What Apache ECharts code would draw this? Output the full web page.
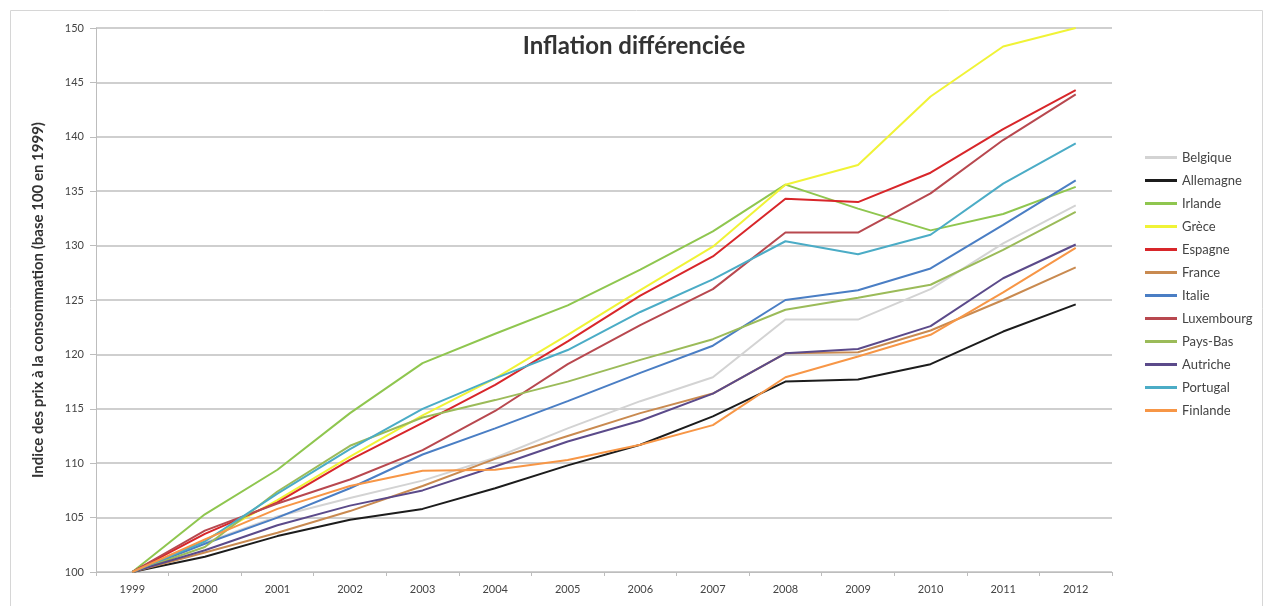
<!DOCTYPE html>
<html>
<head>
<meta charset="utf-8">
<script src="https://cdn.jsdelivr.net/npm/echarts@6/dist/echarts.min.js"></script>
<style>
  html, body { margin: 0; padding: 0; background: #fff; }
  #main { width: 1268px; height: 606px; }
</style>
</head>
<body>
<div id="main"></div>
<script>
// Indice des prix (base 100 en 1999)
var years = ['1999','2000','2001','2002','2003','2004','2005','2006','2007','2008','2009','2010','2011','2012'];

var belgique   = [100, 102.7, 105.1, 106.8, 108.4, 110.5, 113.2, 115.7, 117.9, 123.2, 123.2, 126.0, 130.2, 133.7];
var allemagne  = [100, 101.4, 103.3, 104.8, 105.8, 107.7, 109.8, 111.7, 114.3, 117.5, 117.7, 119.1, 122.1, 124.6];
var irlande    = [100, 105.3, 109.4, 114.6, 119.2, 121.9, 124.5, 127.8, 131.3, 135.6, 133.4, 131.4, 132.9, 135.4];
var grece      = [100, 102.9, 106.6, 110.6, 114.4, 117.8, 121.8, 125.9, 129.9, 135.6, 137.4, 143.7, 148.3, 150.0];
var espagne    = [100, 103.5, 106.4, 110.3, 113.7, 117.2, 121.2, 125.4, 129.0, 134.3, 134.0, 136.7, 140.7, 144.3];
var france     = [100, 101.8, 103.6, 105.6, 107.9, 110.4, 112.5, 114.6, 116.4, 120.1, 120.2, 122.2, 125.0, 128.0];
var italie     = [100, 102.6, 105.0, 107.7, 110.8, 113.2, 115.7, 118.3, 120.8, 125.0, 125.9, 127.9, 131.9, 136.0];
var luxembourg = [100, 103.8, 106.3, 108.5, 111.2, 114.8, 119.1, 122.7, 126.0, 131.2, 131.2, 134.8, 139.7, 143.9];
var paysBas    = [100, 102.3, 107.4, 111.6, 114.2, 115.8, 117.5, 119.5, 121.4, 124.1, 125.2, 126.4, 129.6, 133.1];
var autriche   = [100, 102.0, 104.3, 106.1, 107.5, 109.7, 112.0, 113.9, 116.4, 120.1, 120.5, 122.6, 127.0, 130.1];
var portugal   = [100, 102.8, 107.2, 111.3, 115.0, 117.8, 120.4, 123.9, 126.9, 130.4, 129.2, 131.0, 135.7, 139.4];
var finlande   = [100, 103.0, 105.8, 107.9, 109.3, 109.4, 110.3, 111.7, 113.5, 117.9, 119.8, 121.8, 125.7, 129.8];

var names  = ['Belgique','Allemagne','Irlande','Grèce','Espagne','France','Italie','Luxembourg','Pays-Bas','Autriche','Portugal','Finlande'];
var values = [belgique, allemagne, irlande, grece, espagne, france, italie, luxembourg, paysBas, autriche, portugal, finlande];
var colors = ['#d3d3d3','#1c1c1c','#8fc64f','#f0f336','#d8262a','#c98a50','#4a7ec4','#b8484f','#9bbb59','#5b4a8a','#4bacc6','#f79646'];

var font = 'Lato, "Open Sans", sans-serif';

var series = [];
for (var i = 0; i < names.length; i++) {
    series.push({
        name: names[i],
        type: 'line',
        data: values[i],
        symbol: 'none',
        lineStyle: { width: 2, color: colors[i] },
        itemStyle: { color: colors[i] }
    });
}

var myChart = echarts.init(document.getElementById('main'));
myChart.setOption({
    animation: false,
    backgroundColor: '#fff',
    graphic: [{
        type: 'rect',
        shape: { x: 10.5, y: 10.5, width: 1252, height: 620 },
        style: { fill: 'none', stroke: '#d6d6d6', lineWidth: 1 },
        z: -1
    }],
    title: {
        text: 'Inflation différenciée',
        left: 'center',
        top: 29,
        textStyle: { fontFamily: font, fontSize: 24, fontWeight: 'bold', color: '#333' }
    },
    legend: {
        orient: 'vertical',
        left: 1140,
        top: 146,
        itemWidth: 32,
        itemHeight: 3,
        itemGap: 10,
        icon: 'rect',
        data: names,
        textStyle: { fontFamily: font, fontSize: 13, color: '#444' }
    },
    grid: { left: 96, right: 156, top: 28, bottom: 34 },
    xAxis: {
        type: 'category',
        data: years,
        boundaryGap: true,
        axisLine: { lineStyle: { color: '#bdbdbd', width: 1 } },
        axisTick: { show: true, length: 4, lineStyle: { color: '#bdbdbd' } },
        axisLabel: { fontFamily: font, fontSize: 11, color: '#444', margin: 12 }
    },
    yAxis: {
        type: 'value',
        min: 100,
        max: 150,
        interval: 5,
        name: 'Indice des prix à la consommation (base 100 en 1999)',
        nameLocation: 'middle',
        nameGap: 50,
        nameTextStyle: { fontFamily: font, fontSize: 15, fontWeight: 'bold', color: '#333' },
        axisLine: { show: true, lineStyle: { color: '#bdbdbd' } },
        axisTick: { show: true, length: 6, lineStyle: { color: '#bdbdbd' } },
        axisLabel: { fontFamily: font, fontSize: 11, color: '#444', margin: 12 },
        splitLine: { lineStyle: { color: '#cfcfcf', width: 2 } }
    },
    series: series
});
</script>
</body>
</html>
